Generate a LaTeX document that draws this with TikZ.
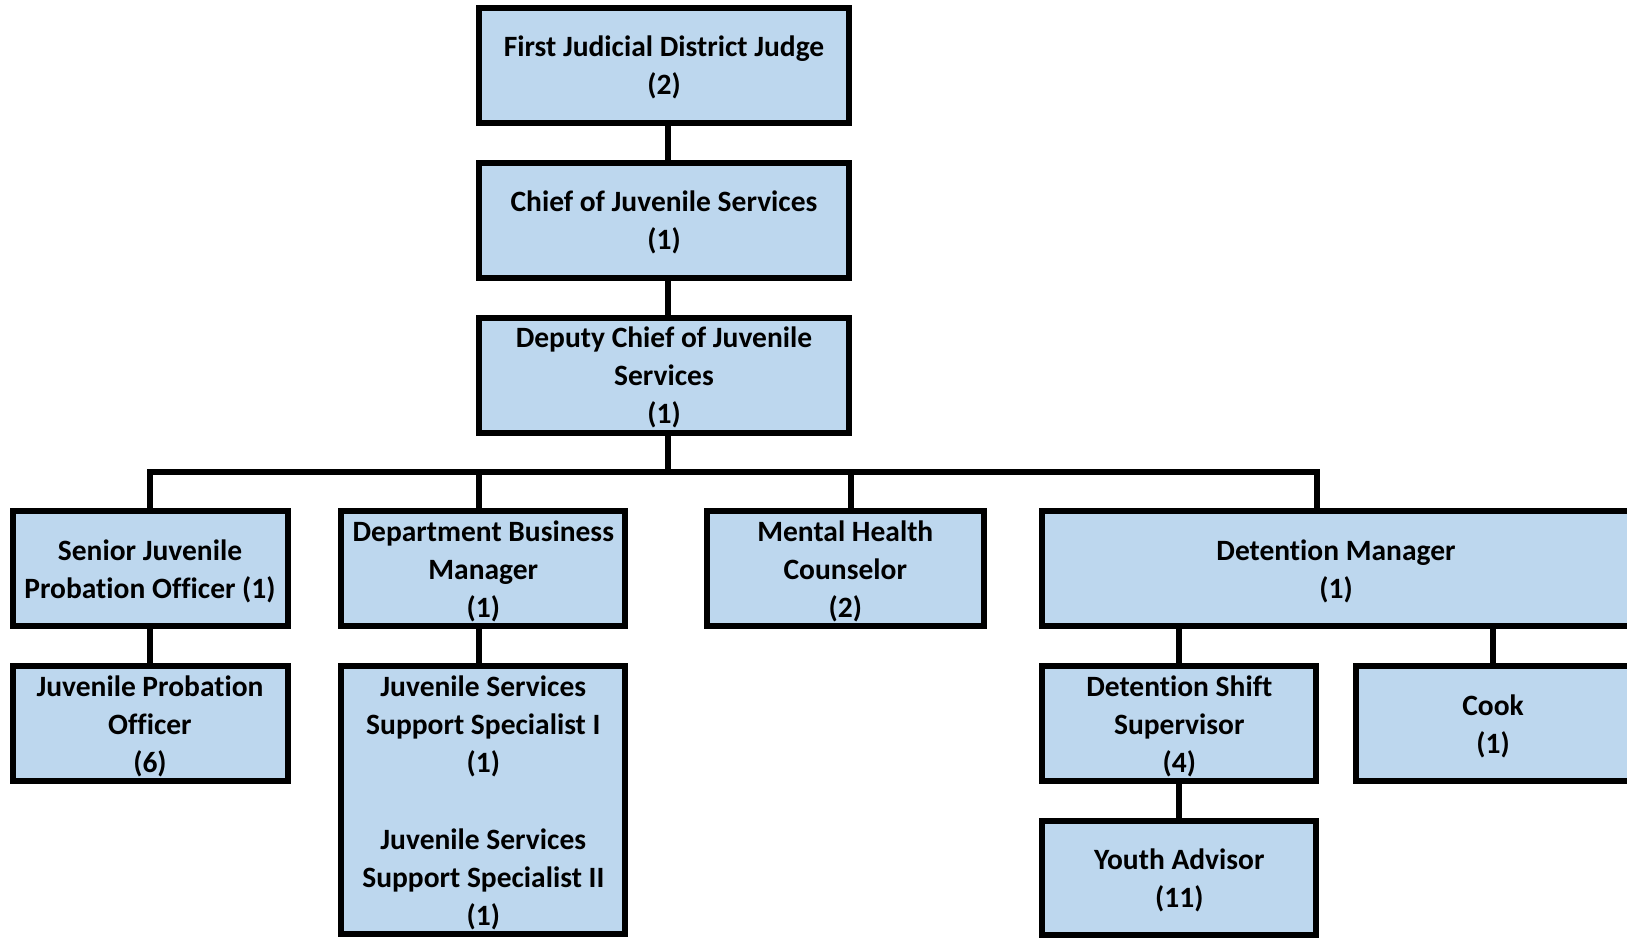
\documentclass[tikz,border=0pt]{standalone}
\usepackage{fontspec}
\setmainfont{Carlito}[Ligatures=NoCommon]
\definecolor{boxfill}{HTML}{BDD7EE}
% struts that give every label the same first-line height and last-line depth
\newcommand{\topline}{\rule{0pt}{30pt}}
\begin{document}
\begin{tikzpicture}[x=1pt,y=-1pt,
  orgbox/.style={draw=black, fill=boxfill, line width=6pt, rectangle,
    inner sep=0pt, outer sep=0pt, align=center, text=black,
    font=\fontsize{29.5}{38.2}\selectfont\bfseries,
    execute at end node={\rule[-8.5pt]{0pt}{8.5pt}}},
  link/.style={draw=black, line width=6pt, line join=miter}]
\useasboundingbox (0,0) rectangle (1627,937);
\clip (0,0) rectangle (1627,937);

% top of the hierarchy
\node[orgbox, minimum width=370pt, minimum height=115pt] (judge) at (664,65)
  {\topline First Judicial District Judge\\(2)};
\node[orgbox, minimum width=370pt, minimum height=115pt] (chief) at (664,220)
  {\topline Chief of Juvenile Services\\(1)};
\node[orgbox, minimum width=370pt, minimum height=115pt] (deputy) at (664,375)
  {\topline Deputy Chief of Juvenile\\Services\\(1)};

% second level
\node[orgbox, minimum width=275pt, minimum height=115pt] (senior) at (150,568.8)
  {\topline Senior Juvenile\\Probation Officer (1)};
\node[orgbox, minimum width=284pt, minimum height=115pt] (dept) at (483.3,568.8)
  {\topline Department Business\\Manager\\(1)};
\node[orgbox, minimum width=277pt, minimum height=115pt] (mental) at (845.3,568.8)
  {\topline Mental Health\\Counselor\\(2)};
\node[orgbox, minimum width=588pt, minimum height=115pt] (detmgr) at (1336,568.8)
  {\topline Detention Manager\\(1)};

% third level
\node[orgbox, minimum width=275pt, minimum height=115pt] (jpo) at (150,723.8)
  {\topline Juvenile Probation\\Officer\\(6)};
\node[orgbox, minimum width=284pt, minimum height=268pt] (jsss) at (483.3,800.4)
  {\topline Juvenile Services\\Support Specialist I\\(1)\\\mbox{}\\Juvenile Services\\Support Specialist II\\(1)};
\node[orgbox, minimum width=274pt, minimum height=115pt] (dss) at (1179.3,723.8)
  {\topline Detention Shift\\Supervisor\\(4)};
\node[orgbox, minimum width=274pt, minimum height=115pt] (cook) at (1493,723.8)
  {\topline Cook\\(1)};

% fourth level
\node[orgbox, minimum width=274pt, minimum height=113.5pt] (youth) at (1179.3,878)
  {\topline Youth Advisor\\(11)};

% connectors
\coordinate (trunk) at (668,472);
\coordinate (busR) at (1316.7,472);
\coordinate (tapDept) at (479,472);
\coordinate (tapMental) at (851,472);

\draw[link] (judge.south -| trunk) -- (chief.north -| trunk);
\draw[link] (chief.south -| trunk) -- (deputy.north -| trunk);
\draw[link] (deputy.south -| trunk) -- (trunk);
\draw[link] (senior.north) |- (trunk) -| (detmgr.north -| busR);
\draw[link] (tapDept) -- (dept.north -| tapDept);
\draw[link] (tapMental) -- (mental.north -| tapMental);

\draw[link] (senior.south) -- (jpo.north);
\draw[link] (dept.south -| tapDept) -- (jsss.north -| tapDept);
\draw[link] (dss.north |- detmgr.south) -- (dss.north);
\draw[link] (cook.north |- detmgr.south) -- (cook.north);
\draw[link] (dss.south) -- (youth.north);
\end{tikzpicture}
\end{document}
